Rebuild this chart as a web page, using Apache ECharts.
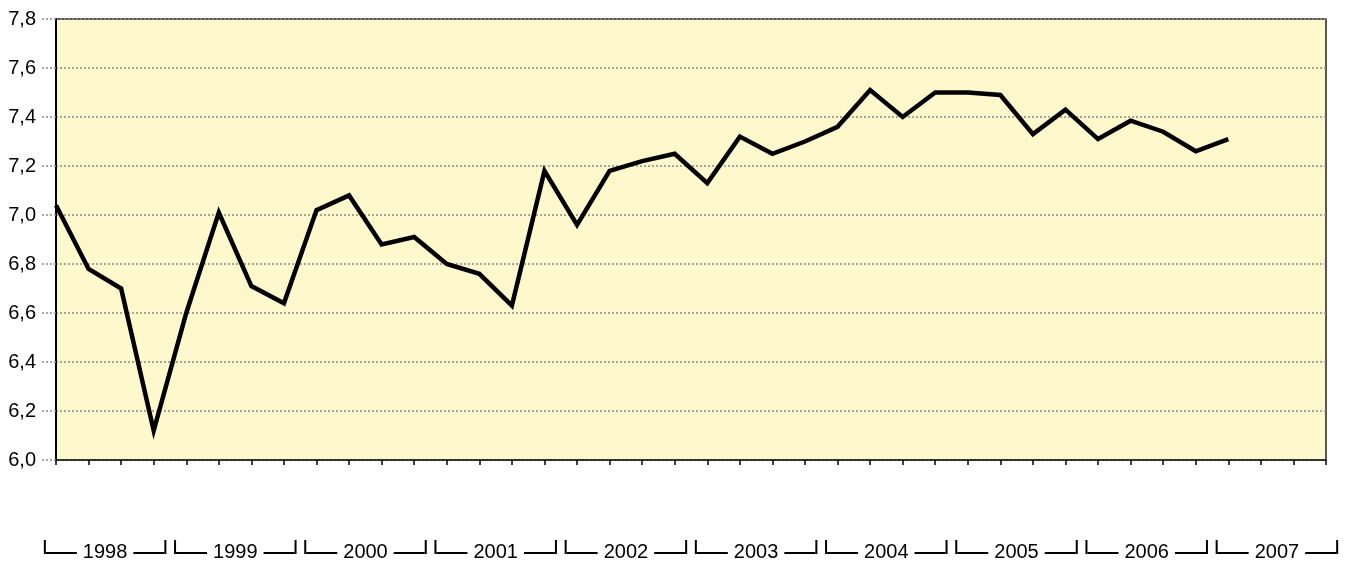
<!DOCTYPE html>
<html>
<head>
<meta charset="utf-8">
<script src="https://cdn.jsdelivr.net/npm/echarts@6/dist/echarts.min.js"></script>
<style>
  html, body { margin: 0; padding: 0; background: #fff; }
  #main { width: 1354px; height: 562px; }
</style>
</head>
<body>
<div id="main"></div>
<script>
// quarterly data 1998 I - 2007 IV
var quarters = [
  '1998 I', '1998 II', '1998 III', '1998 IV',
  '1999 I', '1999 II', '1999 III', '1999 IV',
  '2000 I', '2000 II', '2000 III', '2000 IV',
  '2001 I', '2001 II', '2001 III', '2001 IV',
  '2002 I', '2002 II', '2002 III', '2002 IV',
  '2003 I', '2003 II', '2003 III', '2003 IV',
  '2004 I', '2004 II', '2004 III', '2004 IV',
  '2005 I', '2005 II', '2005 III', '2005 IV',
  '2006 I', '2006 II', '2006 III', '2006 IV',
  '2007 I', '2007 II', '2007 III', '2007 IV'
]
var years = ['1998', '1999', '2000', '2001', '2002', '2003', '2004', '2005', '2006', '2007']
var values = [
  7.04, 6.78, 6.70, 6.12,
  6.60, 7.01, 6.71, 6.64,
  7.02, 7.08, 6.88, 6.91,
  6.80, 6.76, 6.63, 7.18,
  6.96, 7.18, 7.22, 7.25,
  7.13, 7.32, 7.25, 7.30,
  7.36, 7.51, 7.40, 7.50,
  7.50, 7.49, 7.33, 7.43,
  7.31, 7.385, 7.34, 7.26,
  7.31
]

var font = 'Liberation Sans, Arial, sans-serif'
var myChart = echarts.init(document.getElementById('main'))
var option = {
  animation: false,
  grid: [
    {
      left: 56, right: 28, top: 19, bottom: 102,
      show: true, backgroundColor: '#fff8cc',
      borderColor: '#222', borderWidth: 1.5
    },
    { left: 40, right: 12, top: 530, height: 10 }
  ],
  xAxis: [
    {
      type: 'category',
      data: quarters,
      boundaryGap: false,
      axisLine: { lineStyle: { color: '#222', width: 1.5 } },
      axisTick: { show: true, interval: 0, length: 5, lineStyle: { color: '#000', width: 1.5 } },
      axisLabel: { show: false },
      splitLine: { show: false }
    },
    {
      // year brackets under the quarters
      type: 'category',
      gridIndex: 1,
      data: years,
      boundaryGap: true,
      axisLine: { show: false },
      axisTick: { show: false },
      axisLabel: {
        interval: 0,
        margin: 1,
        formatter: function (v) {
          return '{v|}{h|}{t|' + v + '}{h|}{v|}'
        },
        rich: {
          v: { width: 2, height: 14, backgroundColor: '#000', verticalAlign: 'bottom' },
          h: { width: 31, height: 2, backgroundColor: '#000', verticalAlign: 'bottom' },
          t: { fontSize: 20, height: 4, lineHeight: 4, fontFamily: font, color: '#000', padding: [0, 6], verticalAlign: 'bottom' }
        }
      }
    }
  ],
  yAxis: [
    {
      type: 'value',
      min: 6,
      max: 7.8,
      interval: 0.2,
      axisLine: { show: true, lineStyle: { color: '#000', width: 2 } },
      axisTick: { show: true, length: 14, lineStyle: { color: '#8a8a8a', width: 1.5, type: [2, 2] } },
      axisLabel: {
        margin: 20,
        fontSize: 20,
        fontFamily: font,
        color: '#000',
        formatter: function (v) { return v.toFixed(1).replace('.', ',') }
      },
      splitLine: { show: true, lineStyle: { color: '#8a8a8a', width: 1.5, type: [2, 2] } }
    },
    { type: 'value', gridIndex: 1, show: false }
  ],
  series: [
    {
      type: 'line',
      data: values,
      showSymbol: false,
      lineStyle: { color: '#000', width: 4.5, join: 'miter', miterLimit: 10 }
    }
  ]
}
myChart.setOption(option)
</script>
</body>
</html>
